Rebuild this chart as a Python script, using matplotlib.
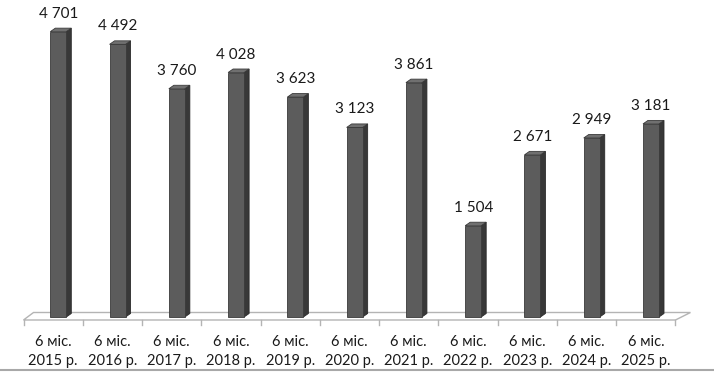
import matplotlib
matplotlib.use("Agg")
import matplotlib.pyplot as plt
from matplotlib.patches import Polygon

plt.rcParams['font.family'] = ['Lato', 'DejaVu Sans']

years = ["2015", "2016", "2017", "2018", "2019", "2020", "2021", "2022", "2023", "2024", "2025"]
values = [4701, 4492, 3760, 4028, 3623, 3123, 3861, 1504, 2671, 2949, 3181]
value_labels = ["4 701", "4 492", "3 760", "4 028", "3 623", "3 123", "3 861", "1 504", "2 671", "2 949", "3 181"]
tick_labels = [f"6 міс.\n{y} р." for y in years]

W, H = 714, 373
fig = plt.figure(figsize=(W / 100, H / 100), dpi=100)
ax = fig.add_axes([0, 0, 1, 1])

# pixel geometry of the layout
x0_px, step_px = 58.3, 59.27      # centre of first bar front, category spacing
base_px, scale = 317.0, 0.0607    # baseline (from top), px per unit
ax.set_xlim(-x0_px / step_px, (W - x0_px) / step_px)
ax.set_ylim(-(H - base_px) / scale, base_px / scale)
ax.axis('off')

def px_x(dpx):
    return dpx / step_px

def px_y(dpx):
    return dpx / scale

n = len(values)
front_w = px_x(16)
dx, dy = px_x(5), px_y(3.5)

# floor
floor_col = '#b4b4b4'
b_left = -px_x(x0_px - 23.5)
b_right = b_left + n
y_front = -px_y(3)
y_back = px_y(4.5)
fl = [(b_left, y_front), (b_right, y_front), (b_right + px_x(15), y_back), (b_left + px_x(10), y_back)]
ax.add_patch(Polygon(fl, closed=True, facecolor='white', edgecolor=floor_col, lw=1.0, zorder=1))
for k in range(n + 1):
    xb = b_left + k
    ax.plot([xb, xb], [y_front, y_front - px_y(5)], color=floor_col, lw=1.0, zorder=1)

# bars
front_col, side_col, top_col = '#5c5c5c', '#383838', '#707070'
for i, v in enumerate(values):
    xl, xr = i - front_w / 2, i + front_w / 2
    side = [(xr, 0), (xr + dx, dy), (xr + dx, v + dy), (xr, v)]
    top = [(xl, v), (xr, v), (xr + dx, v + dy), (xl + dx, v + dy)]
    ax.add_patch(Polygon(side, closed=True, facecolor=side_col, edgecolor='#2a2a2a', lw=0.6, zorder=3))
    ax.add_patch(Polygon(top, closed=True, facecolor=top_col, edgecolor='#3a3a3a', lw=0.6, zorder=3))
    ax.bar(i, v, width=front_w, color=front_col, edgecolor='#3a3a3a', linewidth=0.6, zorder=4)
    ax.text(i, v + px_y(14), value_labels[i], ha='center', va='baseline',
            fontsize=11, color='#1a1a1a', zorder=5)

# category labels
for i, lab in enumerate(tick_labels):
    xc = b_left + i + 0.5
    l1, l2 = lab.split("\n")
    ax.text(xc, -px_y(346.5 - base_px), l1, ha='center', va='baseline', fontsize=10.5, color='#1a1a1a')
    ax.text(xc, -px_y(365 - base_px), l2, ha='center', va='baseline', fontsize=10.5, color='#1a1a1a')

# bottom frame line
ax.plot([ax.get_xlim()[0], ax.get_xlim()[1]], [-px_y(369.5 - base_px)] * 2, color='#a8a8a8', lw=1.5,
        solid_capstyle='butt')

fig.savefig("out.png", dpi=100)
